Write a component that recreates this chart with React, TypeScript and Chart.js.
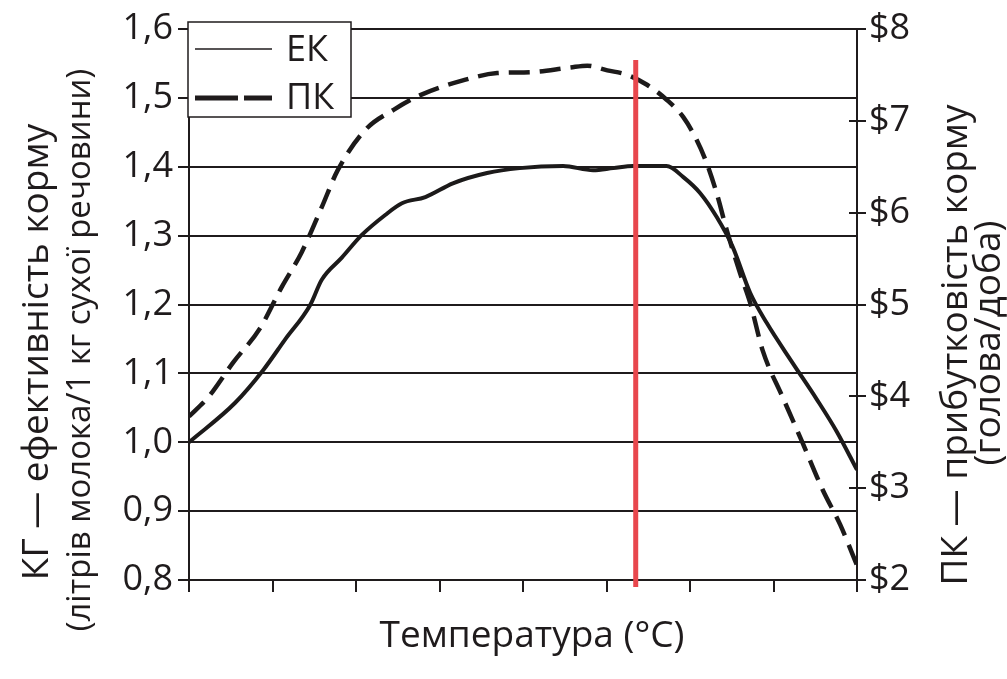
import React, { useEffect, useRef } from "react";
import { Chart, registerables } from "chart.js";

Chart.register(...registerables);

// Temperature axis (unlabelled units 0..8)
const X_TICKS = [0, 1, 2, 3, 4, 5, 6, 7, 8];

// ЕК — feed efficiency (left axis)
const EK_X = [0, 0.55, 0.89, 1.15, 1.45, 1.59, 1.83, 2.07, 2.35, 2.55, 2.83, 3.16, 3.57, 3.96, 4.48, 4.84, 5.08, 5.32, 5.72, 5.92, 6.12, 6.32, 6.51, 6.72, 6.92, 7.23, 7.52, 7.76, 8.0];
const EK_Y = [1.0, 1.057, 1.105, 1.149, 1.199, 1.236, 1.268, 1.301, 1.33, 1.347, 1.356, 1.376, 1.391, 1.398, 1.401, 1.395, 1.398, 1.401, 1.401, 1.385, 1.362, 1.327, 1.284, 1.217, 1.173, 1.115, 1.062, 1.015, 0.96];

// ПК — feed profitability (right axis, $ per head per day)
const PK_X = [0, 0.23, 0.53, 0.85, 1.11, 1.35, 1.59, 1.78, 2.11, 2.45, 2.77, 3.28, 3.69, 4.08, 4.56, 4.77, 5.01, 5.25, 5.49, 5.72, 5.92, 6.08, 6.2, 6.32, 6.44, 6.6, 6.72, 6.87, 7.11, 7.35, 7.59, 7.8, 8.0];
const PK_Y = [3.78, 3.99, 4.37, 4.74, 5.19, 5.57, 6.06, 6.46, 6.9, 7.12, 7.28, 7.44, 7.52, 7.53, 7.58, 7.6, 7.55, 7.5, 7.39, 7.23, 7.04, 6.79, 6.54, 6.21, 5.81, 5.34, 5.02, 4.5, 3.99, 3.49, 2.98, 2.6, 2.16];

// Red marker line
const MARK_X = 5.35;
const MARK_Y = [0.79, 1.555];

// Axis ranges / labels
const LEFT_MIN = 0.8;
const LEFT_MAX = 1.6;
const RIGHT_MIN = 2;
const RIGHT_MAX = 8;
const X_TITLE = "Температура (°C)";
const LEFT_TITLE = ["КГ — ефективність корму", "(літрів молока/1 кг сухої речовини)"];
const RIGHT_TITLE = ["ПК — прибутковість корму", "(голова/доба)"];
const LEGEND_LABELS = ["ЕК", "ПК"];

const FONT = "'Open Sans', sans-serif";
const INK = "#1f1b1c";

const overlay = {
  id: "overlay",
  afterDraw(chart: any) {
    const ctx = chart.ctx as CanvasRenderingContext2D;
    const ca = chart.chartArea;
    const y2 = chart.scales.y2;
    ctx.save();
    // inner half of crossing ticks on right axis
    ctx.strokeStyle = INK;
    ctx.lineWidth = 2;
    for (let v = RIGHT_MIN; v <= RIGHT_MAX; v++) {
      const py = Math.round(y2.getPixelForValue(v));
      ctx.beginPath();
      ctx.moveTo(ca.right - 8, py);
      ctx.lineTo(ca.right, py);
      ctx.stroke();
    }

    // legend box
    ctx.fillStyle = "#ffffff";
    ctx.fillRect(188, 22, 163, 95);
    ctx.lineWidth = 1.5;
    ctx.strokeStyle = INK;
    ctx.strokeRect(188, 22, 163, 95);
    ctx.beginPath();
    ctx.lineWidth = 1.6;
    ctx.moveTo(195, 49);
    ctx.lineTo(272, 49);
    ctx.stroke();
    ctx.lineWidth = 5;
    ctx.beginPath();
    ctx.moveTo(195, 98);
    ctx.lineTo(238, 98);
    ctx.moveTo(244, 98);
    ctx.lineTo(272, 98);
    ctx.stroke();
    ctx.fillStyle = INK;
    ctx.font = `36px ${FONT}`;
    ctx.textAlign = "left";
    ctx.textBaseline = "middle";
    ctx.fillText(LEGEND_LABELS[0], 286, 51);
    ctx.fillText(LEGEND_LABELS[1], 286, 99);

    // x title
    ctx.textAlign = "center";
    ctx.font = `37px ${FONT}`;
    ctx.fillText(X_TITLE, 532, 636);

    const drawRot = (text: string, x: number, y: number) => {
      ctx.save();
      ctx.translate(x, y);
      ctx.rotate(-Math.PI / 2);
      ctx.textAlign = "center";
      ctx.textBaseline = "middle";
      ctx.fillText(text, 0, 0);
      ctx.restore();
    };
    // left title
    ctx.font = `37px ${FONT}`;
    drawRot(LEFT_TITLE[0], 37, 352);
    ctx.font = `33px ${FONT}`;
    drawRot(LEFT_TITLE[1], 81, 350);
    // right title
    ctx.font = `37px ${FONT}`;
    drawRot(RIGHT_TITLE[0], 956, 345);
    drawRot(RIGHT_TITLE[1], 989, 343);
    ctx.restore();
  },
};

export default function App() {
  const ref = useRef<HTMLCanvasElement>(null);
  useEffect(() => {
    if (!ref.current) return;
    Chart.defaults.font.family = FONT;
    const chart = new Chart(ref.current, {
      type: "line",
      data: {
        datasets: [
          {
            label: "mark",
            data: MARK_Y.map((y) => ({ x: MARK_X, y })),
            yAxisID: "y",
            borderColor: "#e8474d",
            borderWidth: 5,
            pointRadius: 0,
            clip: false as any,
          },
          {
            label: LEGEND_LABELS[0],
            data: EK_X.map((x, i) => ({ x, y: EK_Y[i] })),
            yAxisID: "y",
            borderColor: "#1c1a1a",
            borderWidth: 4,
            pointRadius: 0,
            cubicInterpolationMode: "monotone",
          },
          {
            label: LEGEND_LABELS[1],
            data: PK_X.map((x, i) => ({ x, y: PK_Y[i] })),
            yAxisID: "y2",
            borderColor: "#1c1a1a",
            borderWidth: 4.5,
            borderDash: [21, 10],
            pointRadius: 0,
            cubicInterpolationMode: "monotone",
          },
        ],
      },
      options: {
        animation: false,
        responsive: false,
        layout: { padding: { top: 29, left: 0, right: 0, bottom: 0 } },
        plugins: { legend: { display: false }, tooltip: { enabled: false } },
        scales: {
          x: {
            type: "linear",
            min: X_TICKS[0],
            max: X_TICKS[X_TICKS.length - 1],
            afterBuildTicks: (s: any) => {
              s.ticks = X_TICKS.map((v) => ({ value: v }));
            },
            ticks: { display: false },
            grid: { drawOnChartArea: false, drawTicks: true, tickLength: 12, color: INK, lineWidth: 2 },
            border: { color: INK, width: 2 },
            afterFit: (s: any) => {
              s.height = 99;
            },
          },
          y: {
            position: "left",
            min: LEFT_MIN,
            max: LEFT_MAX,
            ticks: {
              stepSize: 0.1,
              color: INK,
              font: { size: 36, family: FONT },
              padding: 5,
              callback: (v: any) => Number(v).toFixed(1).replace(".", ","),
            },
            grid: { color: INK, lineWidth: 2, tickLength: 11 },
            border: { color: INK, width: 2 },
            afterFit: (s: any) => {
              s.width = 189;
            },
          },
          y2: {
            position: "right",
            min: RIGHT_MIN,
            max: RIGHT_MAX,
            ticks: {
              stepSize: 1,
              color: INK,
              font: { size: 36, family: FONT },
              padding: 3,
              callback: (v: any) => "$" + v,
            },
            grid: { drawOnChartArea: false, color: INK, lineWidth: 2, tickLength: 9 },
            border: { color: INK, width: 2 },
            afterFit: (s: any) => {
              s.width = 150;
            },
          },
        },
      },
      plugins: [overlay],
    });
    return () => chart.destroy();
  }, []);
  return (
    <div style={{ position: "fixed", left: 0, top: 0, width: 1007, height: 679, background: "#fff" }}>
      <canvas ref={ref} width={1007} height={679} style={{ display: "block" }} />
    </div>
  );
}
